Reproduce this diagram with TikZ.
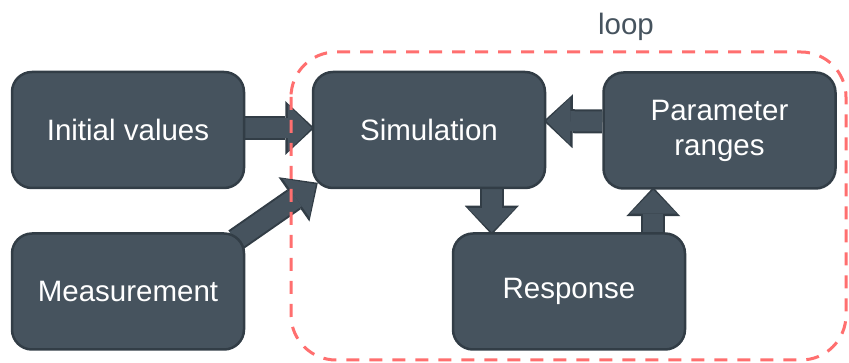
\documentclass[tikz,border=0pt]{standalone}
\usepackage{fontspec}
\setmainfont{Liberation Sans}
\usetikzlibrary{arrows.meta,positioning,calc,backgrounds}

\definecolor{boxfill}{HTML}{46535E}
\definecolor{boxedge}{HTML}{323D46}
\definecolor{looped}{HTML}{FF6F6F}

\tikzset{
  block/.style={rectangle, rounded corners=20pt, fill=boxfill, draw=boxedge,
    line width=2.5pt, minimum width=232pt, minimum height=116pt,
    text=white, align=center, font=\fontsize{29.5}{35}\selectfont},
  fatarrow/.style={draw=boxfill, line width=20pt,
    -{Triangle[length=24pt,width=47pt,line width=0pt]},
    preaction={draw=boxedge, line width=24pt, shorten >=-2.5pt,
      -{Triangle[length=29pt,width=54pt,line width=0pt]}}},
  loopline/.style={draw=looped, line width=3pt, dash pattern=on 13pt off 10pt,
    rounded corners=45pt}
}

\begin{document}
\begin{tikzpicture}[x=1pt,y=-1pt]
  \useasboundingbox (0,0) rectangle (849,363);

  \node[block] (init)  at (128,130)   {Initial values};
  \node[block] (sim)   at (429,130)   {Simulation};
  \node[block] (param) at (719.5,130.5) {Parameter\\ranges};
  \node[block] (meas)  at (128,291.5) {Measurement};
  \node[block] (resp)  at (569,291.5) {Response};

  \coordinate (down) at ([xshift=40pt]resp.north west);
  \coordinate (up)   at ([xshift=-33pt]resp.north east);

  % block arrows sit behind the boxes
  \begin{scope}[on background layer]
    \draw[fatarrow] ([yshift=2pt]init.east) -- ([yshift=2pt]sim.west);
    \draw[fatarrow] ($(meas.north east)+(-10,8)$) -- ($(sim.south west)+(4,-5)$);
    \draw[fatarrow] (sim.south -| down) -- (down);
    \draw[fatarrow] ([yshift=9pt]param.west) -- ([yshift=9pt]sim.east);
    \draw[fatarrow] (up) -- (param.south -| up);
  \end{scope}

  % dashed frame round the iteration
  \draw[loopline] (291,52) rectangle (846,360);
  \node[anchor=base, text=boxfill, font=\fontsize{29.5}{35}\selectfont] (looplabel)
    at (626,35) {loop};
\end{tikzpicture}
\end{document}
